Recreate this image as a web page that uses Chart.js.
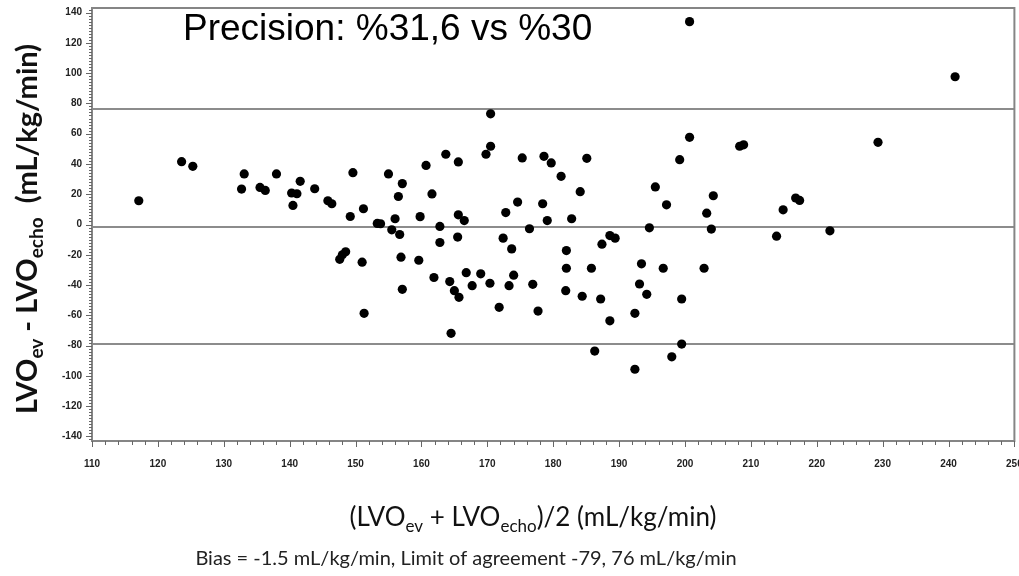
<!DOCTYPE html>
<html lang="en">

<head>
    <meta charset="UTF-8">
    <meta name="viewport" content="width=device-width, initial-scale=1.0">
    <title>LVO ev vs echo</title>
    <style>
        html, body { margin: 0; padding: 0; background: #fff; }
        .chartWrap { width: 1019px; height: 576px; position: relative; }
    </style>
</head>

<body>

    <div class="chartWrap">
        <canvas id="myChart"></canvas>
    </div>

    <script src="https://cdn.jsdelivr.net/npm/chart.js"></script>
    <script>

        // (LVOev + LVOecho)/2 for each patient
        const meanVals = [
            117.1, 123.6, 125.3, 133.1, 132.7, 138.0, 135.5, 136.3, 141.6, 140.3,
            141.1, 140.5, 143.8, 145.8, 146.4, 149.6, 149.2, 151.2, 153.3, 153.8,
            155.0, 157.1, 156.5, 156.0, 159.8, 160.7, 161.6, 162.8, 155.5, 156.7,
            162.8, 147.6, 148.0, 148.5, 151.0, 156.9, 159.6, 161.9, 157.1, 151.3,
            200.7, 170.5, 170.5, 169.8, 163.7, 165.6, 175.3, 178.6, 179.7, 185.1,
            181.2, 184.1, 174.6, 178.4, 172.8, 165.6, 166.5, 179.1, 182.8, 176.4,
            195.5, 197.2, 199.2, 200.7, 204.3, 203.3, 194.6, 204.0, 165.5, 164.3,
            165.0, 165.7, 164.5, 166.8, 167.7, 169.0, 170.4, 171.8, 172.4, 173.7,
            174.0, 173.3, 176.9, 177.7, 182.0, 182.0, 181.9, 184.4, 185.8, 187.2,
            187.4, 188.6, 189.4, 188.6, 186.3, 192.4, 192.4, 193.1, 194.2, 193.4,
            196.7, 199.5, 199.5, 198.0, 202.9, 241.0, 229.3, 208.3, 208.9, 214.9,
            216.8, 217.4, 213.9, 222.0
        ];
        // LVOev - LVOecho for each patient
        const diffVals = [
            15.7, 41.5, 38.4, 33.4, 23.4, 33.4, 24.5, 22.5, 28.5, 20.8,
            20.3, 12.6, 23.6, 15.7, 13.7, 34.2, 5.3, 10.4, 0.7, 0.5,
            33.4, 27.0, 18.5, 3.8, 5.2, 39.0, 20.2, -1.3, -3.5, -6.6,
            -11.9, -23.0, -20.0, -18.0, -24.9, -21.6, -23.6, -35.0, -42.8, -58.7,
            134.0, 73.1, 51.7, 46.4, 46.4, 41.3, 44.0, 45.0, 40.7, 43.7,
            31.8, 21.7, 14.8, 13.7, 7.9, 6.4, 2.6, 2.6, 3.8, -2.8,
            24.8, 13.0, 42.8, 57.6, 19.0, 7.5, -2.2, -3.0, -8.3, -37.7,
            -43.7, -48.1, -71.9, -31.8, -40.4, -32.6, -38.8, -54.7, -9.0, -16.1,
            -33.5, -40.4, -39.5, -57.2, -17.2, -28.9, -43.7, -47.4, -28.9, -49.2,
            -13.0, -7.3, -9.0, -63.6, -83.6, -95.6, -58.7, -39.3, -46.1, -26.0,
            -28.9, -49.2, -79.0, -87.4, -28.9, 97.6, 54.3, 51.7, 52.6, 9.7,
            17.5, 15.9, -7.7, -4.2
        ];
        // upper limit of agreement, bias, lower limit of agreement
        const refLines = [76, -1.5, -79];

        const xTicks = [110, 120, 130, 140, 150, 160, 170, 180, 190, 200, 210, 220, 230, 240, 250];
        const yTicks = [-140, -120, -100, -80, -60, -40, -20, 0, 20, 40, 60, 80, 100, 120, 140];

        const precisionText = 'Precision: %31,6 vs %30';
        const footText = 'Bias = -1.5 mL/kg/min, Limit of agreement -79, 76 mL/kg/min';
        const yTitle = [{ t: 'LVO' }, { t: 'ev', sub: true }, { t: ' - LVO' }, { t: 'echo', sub: true }, { t: '  (mL/kg/min)' }];
        const xTitle = [{ t: '(LVO' }, { t: 'ev', sub: true }, { t: ' + LVO' }, { t: 'echo', sub: true }, { t: ')/2 (mL/kg/min)' }];

        const points = meanVals.map((x, i) => ({ x: x, y: diffVals[i] }));

        // text with subscripts, drawn centred on x with baseline y
        function drawParts(ctx, parts, x, y, size, weight, family) {
            const subSize = Math.round(size * 0.66);
            let total = 0;
            parts.forEach(p => {
                ctx.font = `${weight} ${p.sub ? subSize : size}px ${family}`;
                p.w = ctx.measureText(p.t).width;
                total += p.w;
            });
            let cx = x - total / 2;
            ctx.textAlign = 'left';
            ctx.textBaseline = 'alphabetic';
            parts.forEach(p => {
                ctx.font = `${weight} ${p.sub ? subSize : size}px ${family}`;
                ctx.fillText(p.t, cx, p.sub ? y + size * 0.22 : y);
                cx += p.w;
            });
        }

        const framePlugin = {
            id: 'frame',
            beforeDatasetsDraw(chart) {
                const { ctx, chartArea: a, scales } = chart;
                ctx.save();
                // bias and limits of agreement
                ctx.strokeStyle = '#8c8c8c';
                ctx.lineWidth = 2;
                refLines.forEach(v => {
                    const y = Math.round(scales.y.getPixelForValue(v));
                    ctx.beginPath();
                    ctx.moveTo(a.left, y);
                    ctx.lineTo(a.right, y);
                    ctx.stroke();
                });
                // plot box
                ctx.strokeStyle = '#858585';
                ctx.strokeRect(a.left, a.top, a.right - a.left, a.bottom - a.top);

                // tick marks, every 2 units, longer on labelled values
                ctx.strokeStyle = '#666';
                ctx.lineWidth = 1;
                ctx.beginPath();
                for (let v = 110; v <= 250; v += 2) {
                    const x = Math.round(scales.x.getPixelForValue(v)) + 0.5;
                    const len = v % 10 === 0 ? 6 : 4;
                    ctx.moveTo(x, a.bottom);
                    ctx.lineTo(x, a.bottom + len);
                }
                for (let v = -142; v <= 142; v += 2) {
                    const y = Math.round(scales.y.getPixelForValue(v)) + 0.5;
                    const len = v % 20 === 0 ? 6 : 3;
                    ctx.moveTo(a.left, y);
                    ctx.lineTo(a.left - len, y);
                }
                ctx.stroke();
                ctx.restore();
            },
            afterDraw(chart) {
                const { ctx } = chart;
                ctx.save();
                ctx.fillStyle = '#000';
                ctx.font = '37px "Liberation Sans", Arial, sans-serif';
                ctx.textAlign = 'left';
                ctx.textBaseline = 'alphabetic';
                ctx.fillText(precisionText, 183, 40);

                ctx.fillStyle = '#111';
                drawParts(ctx, xTitle, 533, 526, 26, 'normal', 'Lato, "Open Sans", sans-serif');

                ctx.fillStyle = '#222';
                ctx.font = '20px Lato, "Open Sans", sans-serif';
                ctx.textAlign = 'center';
                ctx.fillText(footText, 466, 565);

                ctx.translate(37, 229);
                ctx.rotate(-Math.PI / 2);
                ctx.fillStyle = '#111';
                drawParts(ctx, yTitle, 0, 0, 29, 'bold', 'Lato, "Open Sans", sans-serif');
                ctx.restore();
            }
        };

        const tickFont = { family: '"Liberation Sans Narrow", "Liberation Sans", sans-serif', size: 10, weight: 'bold' };

        let ctx = document.getElementById('myChart').getContext('2d');
        let myChart = new Chart(ctx, {
            type: 'scatter',
            data: {
                datasets: [{
                    data: points,
                    backgroundColor: '#000',
                    borderColor: '#000',
                    pointRadius: 4.6,
                    pointBorderWidth: 0
                }]
            },
            options: {
                responsive: true,
                maintainAspectRatio: false,
                animation: false,
                events: [],
                layout: { padding: { top: 8, right: 2, left: 0, bottom: 0 } },
                plugins: {
                    legend: { display: false },
                    tooltip: { enabled: false }
                },
                scales: {
                    x: {
                        type: 'linear',
                        min: 110,
                        max: 250,
                        afterBuildTicks: s => { s.ticks = xTicks.map(v => ({ value: v })); },
                        // fixed height; end labels may run past the plot edges
                        afterFit: s => { s.height = 135; s.paddingLeft = 0; s.paddingRight = 0; },
                        grid: { display: false, drawTicks: false },
                        border: { display: false },
                        ticks: { autoSkip: false, maxRotation: 0, padding: 17, color: '#222', font: tickFont }
                    },
                    y: {
                        type: 'linear',
                        min: -143,
                        max: 143,
                        afterBuildTicks: s => { s.ticks = yTicks.map(v => ({ value: v })); },
                        afterFit: s => { s.width = 92; s.paddingTop = 0; s.paddingBottom = 0; },
                        grid: { display: false, drawTicks: false },
                        border: { display: false },
                        ticks: { autoSkip: false, padding: 10, color: '#222', font: tickFont }
                    }
                }
            },
            plugins: [framePlugin]
        });

    </script>
</body>

</html>
